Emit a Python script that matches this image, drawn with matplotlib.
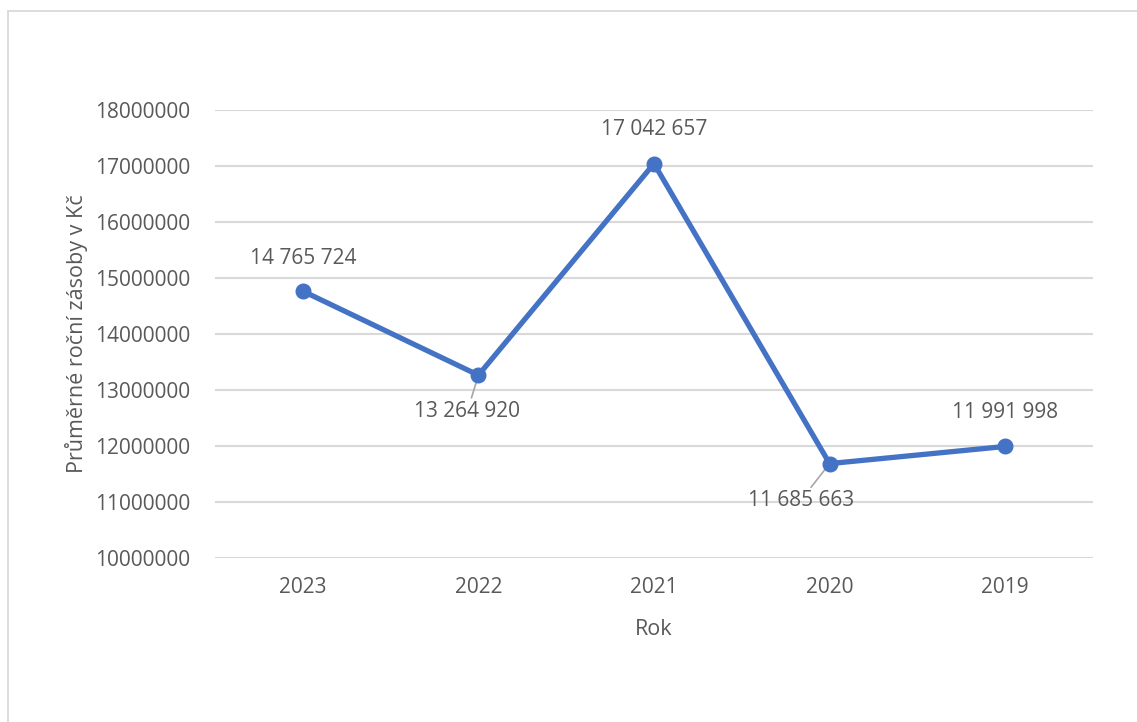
import matplotlib.pyplot as plt
from matplotlib.patches import Rectangle

years = ["2023", "2022", "2021", "2020", "2019"]
zasoby = [14765724, 13264920, 17042657, 11685663, 11991998]
labels = ["14 765 724", "13 264 920", "17 042 657", "11 685 663", "11 991 998"]
# label offsets in pixels (dx, dy) and whether a leader line is drawn
label_offsets = [(0, 33), (-11, -36), (0, 34), (-29, -37), (0, 34)]
leaders = [False, True, False, True, False]

plt.rcParams['font.family'] = ['Open Sans', 'DejaVu Sans']
text_color = "#595959"
line_color = "#4472C4"

fig = plt.figure(figsize=(11.37, 7.22), dpi=100)
fig.patches.append(Rectangle((8 / 1137, -0.1), 1.2, 1 - 11 / 722 + 0.1,
                             transform=fig.transFigure, fill=False,
                             edgecolor="#D9D9D9", linewidth=1.3))

ax = fig.add_axes([215 / 1137, 1 - 558 / 722, (1093 - 215) / 1137, (558 - 110) / 722])
x = list(range(len(years)))
ax.plot(x, zasoby, color=line_color, linewidth=3.8, marker="o", markersize=10.5,
        solid_capstyle="round", zorder=3)

for xi, val, lab, off, lead in zip(x, zasoby, labels, label_offsets, leaders):
    arrow = dict(arrowstyle="-", color="#A6A6A6", lw=1.2, shrinkA=0, shrinkB=0) if lead else None
    ax.annotate(lab, (xi, val), xytext=off, textcoords="offset pixels",
                ha="center", va="center", fontsize=15, color=text_color,
                arrowprops=arrow, zorder=2)

ax.set_xlim(-0.5, 4.5)
ax.set_ylim(10000000, 18000000)
ax.set_yticks(range(10000000, 18000001, 1000000))
ax.set_yticklabels([str(v) for v in range(10000000, 18000001, 1000000)])
ax.set_xticks(x)
ax.set_xticklabels(years)
ax.grid(axis="y", color="#D9D9D9", linewidth=1.5)
ax.set_axisbelow(True)
for s in ax.spines.values():
    s.set_visible(False)
ax.tick_params(length=0, labelsize=15, colors=text_color, pad=18)
ax.tick_params(axis="x", pad=14)
ax.set_xlabel("Rok", fontsize=15.5, color=text_color, labelpad=15)
ax.set_ylabel("Průměrné roční zásoby v Kč", fontsize=15.5, color=text_color, labelpad=5)

fig.savefig("out.png", dpi=100)
